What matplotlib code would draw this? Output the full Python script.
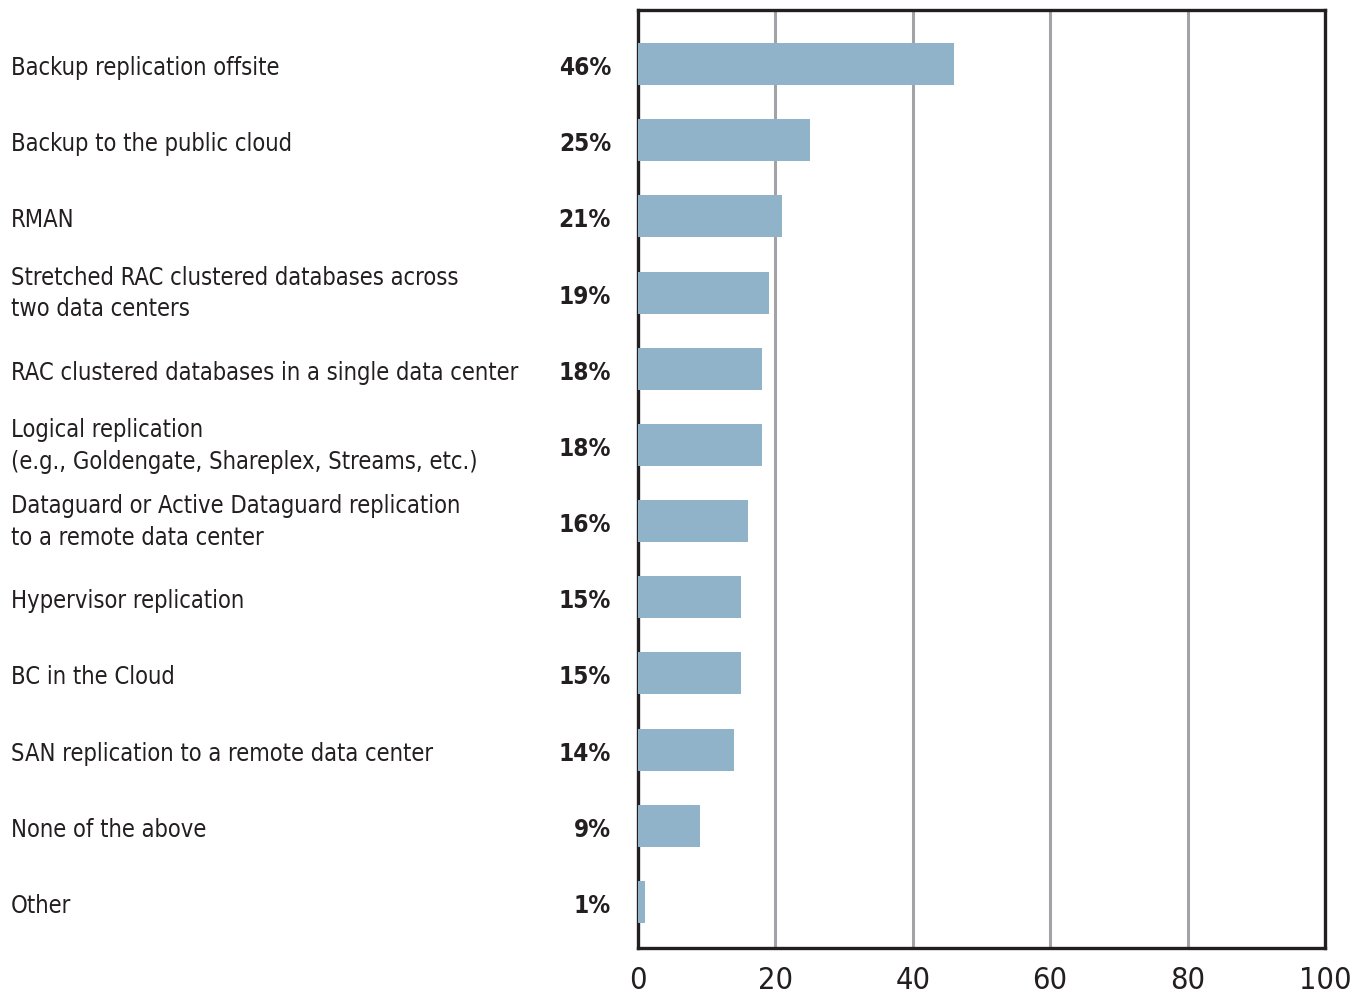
import matplotlib
matplotlib.use("Agg")
import matplotlib.pyplot as plt

categories = [
    "Backup replication offsite",
    "Backup to the public cloud",
    "RMAN",
    "Stretched RAC clustered databases across\ntwo data centers",
    "RAC clustered databases in a single data center",
    "Logical replication\n(e.g., Goldengate, Shareplex, Streams, etc.)",
    "Dataguard or Active Dataguard replication\nto a remote data center",
    "Hypervisor replication",
    "BC in the Cloud",
    "SAN replication to a remote data center",
    "None of the above",
    "Other",
]
values = [46, 25, 21, 19, 18, 18, 16, 15, 15, 14, 9, 1]
ticks = [0, 20, 40, 60, 80, 100]

plt.rcParams["font.family"] = ["DejaVu Sans"]
FONT = dict(family="DejaVu Sans", stretch="condensed")
TEXT_COLOR = "#231f20"

fig = plt.figure(figsize=(13.56, 9.98), dpi=100)
ax = fig.add_axes([0.4705, 0.0501, 0.5066, 0.9399])

y = list(range(len(values)))
ax.barh(y, values, height=0.55, color="#91b3ca", zorder=3)
ax.set_xlim(0, 100)
ax.set_ylim(11.605, -0.71)
for t in ticks[1:-1]:
    ax.axvline(t, color="#a3a3a7", lw=2.2, zorder=1)

ax.set_yticks([])
ax.set_xticks(ticks)
ax.set_xticklabels([str(t) for t in ticks], fontsize=22, color=TEXT_COLOR, **FONT)
ax.tick_params(axis="x", length=0, pad=13)
for s in ax.spines.values():
    s.set_linewidth(2.4)
    s.set_color(TEXT_COLOR)

for yi, (cat, v) in enumerate(zip(categories, values)):
    dy = -1 if "\n" in cat else -4
    ax.annotate(cat, xy=(0, yi), xycoords=("figure fraction", "data"),
                xytext=(11, dy), textcoords="offset pixels",
                ha="left", va="center", fontsize=17, color=TEXT_COLOR,
                linespacing=1.4, **FONT)
    ax.annotate(f"{v}%", xy=(0, yi), xytext=(-27, -4), textcoords="offset pixels",
                ha="right", va="center", fontsize=17.5, fontweight="bold",
                color=TEXT_COLOR, **FONT)

fig.savefig("out.png", dpi=100)
